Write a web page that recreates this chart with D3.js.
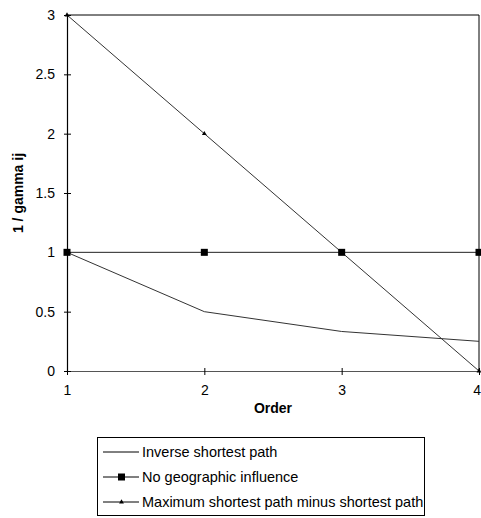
<!DOCTYPE html>
<html>
<head>
<meta charset="utf-8">
<script src="https://cdn.jsdelivr.net/npm/d3@7"></script>
<style>
  body { margin: 0; background: #fff; }
  svg { display: block; font-family: Arial, "Liberation Sans", sans-serif; }
</style>
</head>
<body>
<svg id="chart" width="481" height="518"></svg>
<script>
// Chart data
const orders = [1, 2, 3, 4];
const inverseShortest = [1, 0.5, 0.333, 0.25];
const noGeographic = [1, 1, 1, 1];
const maxMinusShortest = [3, 2, 1, 0];
const yTicks = [0, 0.5, 1, 1.5, 2, 2.5, 3];
const seriesNames = ["Inverse shortest path", "No geographic influence", "Maximum shortest path minus shortest path"];

const margin = {top: 15, right: 2, bottom: 147, left: 67},
      width = 481 - margin.left - margin.right,
      height = 518 - margin.top - margin.bottom;

const svg = d3.select("#chart");
const g = svg.append("g").attr("transform", `translate(${margin.left},${margin.top})`);

const x = d3.scaleLinear().domain([1, 4]).range([0, width]);
const y = d3.scaleLinear().domain([0, 3]).range([height, 0]);

// plot area border (top and right)
g.append("path")
    .attr("d", `M0,0H${width}V${height}`)
    .attr("fill", "none")
    .attr("stroke", "#000")
    .attr("stroke-width", 1);

// x axis
const xAxis = g.append("g")
    .attr("transform", `translate(0,${height})`)
    .call(d3.axisBottom(x).tickValues(orders).tickFormat(d3.format("d")).tickSize(0).tickPadding(14));
xAxis.select(".domain").attr("stroke", "#555").attr("stroke-width", 1.2);
xAxis.selectAll(".tick line").remove();
xAxis.selectAll(".tick").append("line")
    .attr("y1", -3).attr("y2", 4).attr("stroke", "#000");
xAxis.selectAll("text").attr("font-size", 14).attr("fill", "#000")
    .attr("font-family", "Arial, 'Liberation Sans', sans-serif");
// keep the last label inside the window
xAxis.selectAll(".tick").filter(d => d === 4).select("text")
    .attr("text-anchor", "end").attr("x", 1.5);

// y axis
const yAxis = g.append("g")
    .call(d3.axisLeft(y).tickValues(yTicks).tickFormat(d => d).tickSize(0).tickPadding(12));
yAxis.select(".domain").attr("stroke", "#000").attr("stroke-width", 1.2);
yAxis.selectAll(".tick line").remove();
yAxis.selectAll(".tick").append("line")
    .attr("x1", -3).attr("x2", 4).attr("stroke", "#000");
yAxis.selectAll("text").attr("font-size", 14).attr("fill", "#000")
    .attr("font-family", "Arial, 'Liberation Sans', sans-serif");

// axis labels
svg.append("text")
    .attr("x", margin.left + width / 2)
    .attr("y", margin.top + height + 42)
    .attr("text-anchor", "middle")
    .attr("font-weight", "bold")
    .attr("font-size", 14)
    .text("Order");

svg.append("text")
    .attr("transform", `translate(23,${margin.top + height / 2}) rotate(-90)`)
    .attr("text-anchor", "middle")
    .attr("font-weight", "bold")
    .attr("font-size", 14)
    .text("1 / gamma ij");

// lines
const line = d3.line().x((d, i) => x(orders[i])).y(d => y(d));
const seriesData = [inverseShortest, noGeographic, maxMinusShortest];
const strokes = ["#333", "#222", "#333"];

seriesData.forEach((s, k) => {
    g.append("path")
        .datum(s)
        .attr("d", line)
        .attr("fill", "none")
        .attr("stroke", strokes[k])
        .attr("stroke-width", 1);
});

// triangle markers
g.selectAll(".tri")
    .data(maxMinusShortest)
    .enter()
    .append("path")
    .attr("class", "tri")
    .attr("transform", (d, i) => `translate(${x(orders[i])},${y(d)})`)
    .attr("d", d3.symbol(d3.symbolTriangle, 10))
    .attr("fill", "#000");

// square markers
g.selectAll(".sq")
    .data(noGeographic)
    .enter()
    .append("rect")
    .attr("class", "sq")
    .attr("x", (d, i) => x(orders[i]) - 3.5)
    .attr("y", d => y(d) - 3.5)
    .attr("width", 7)
    .attr("height", 7)
    .attr("fill", "#000");

// legend
const legend = svg.append("g").attr("transform", "translate(97,437)");
legend.append("rect")
    .attr("x", 0.5).attr("y", 0.5)
    .attr("width", 327).attr("height", 78)
    .attr("fill", "#fff")
    .attr("stroke", "#000")
    .attr("stroke-width", 1);

const rowY = d3.scalePoint().domain(seriesNames).range([15, 65]);

seriesNames.forEach((name, k) => {
    const row = legend.append("g").attr("transform", `translate(0,${rowY(name)})`);
    row.append("line")
        .attr("x1", 6).attr("x2", 42)
        .attr("stroke", "#000").attr("stroke-width", 1);
    if (k === 1) {
        row.append("rect").attr("x", 21).attr("y", -3.5).attr("width", 7).attr("height", 7).attr("fill", "#000");
    }
    if (k === 2) {
        row.append("path").attr("transform", "translate(24.5,0)")
            .attr("d", d3.symbol(d3.symbolTriangle, 10)).attr("fill", "#000");
    }
    row.append("text")
        .attr("x", 45)
        .attr("dy", "0.35em")
        .attr("font-size", 14.5)
        .text(name);
});
</script>
</body>
</html>
